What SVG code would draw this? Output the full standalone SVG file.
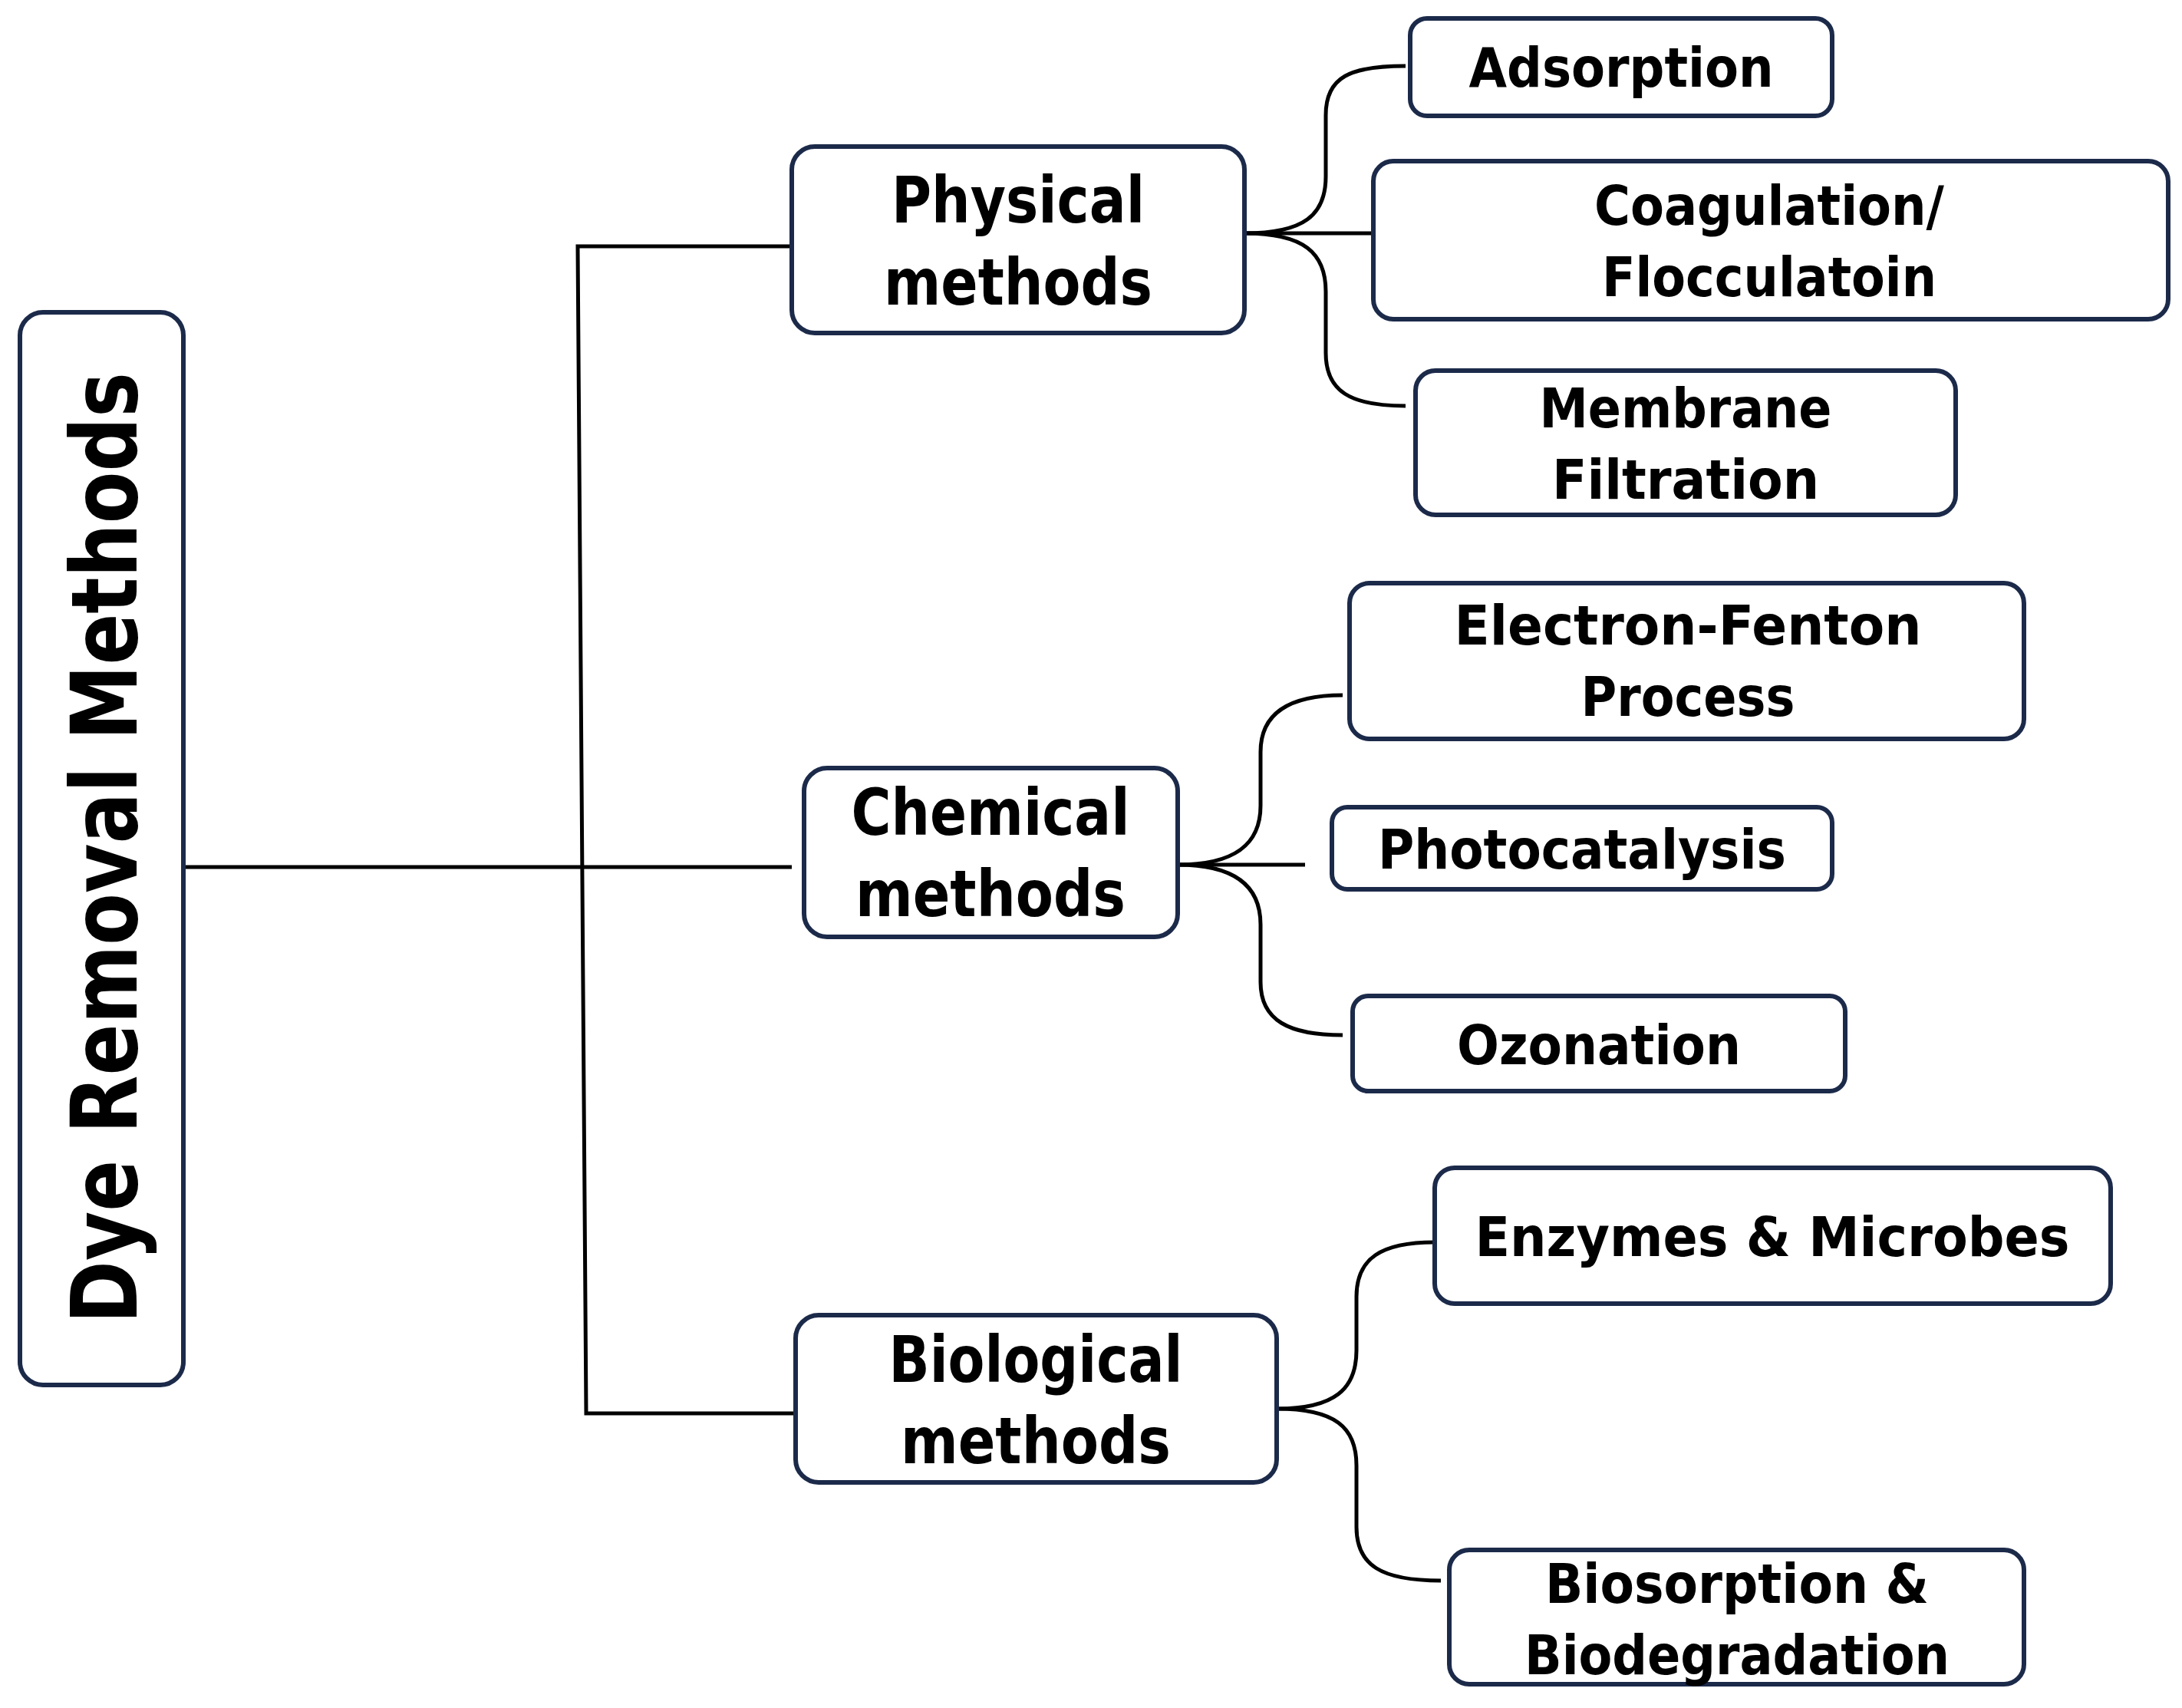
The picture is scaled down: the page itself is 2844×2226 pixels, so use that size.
<svg xmlns="http://www.w3.org/2000/svg" width="2844" height="2226" viewBox="0 0 2844 2226">
<style>
.b{fill:#fff;stroke:#1c2a4a;stroke-width:6}
.t{font-family:"DejaVu Sans",sans-serif;font-weight:bold;fill:#000;text-anchor:middle}
.g{font-size:84px}.l{font-size:72px}
#connectors path{fill:none;stroke:#000;stroke-width:5}
</style>
<rect width="2844" height="2226" fill="#fff"/>
<g id="connectors">
<path d="M239,1130 L1032,1130"/>
<path d="M1032,321 L753,321 L764,1842 L1037,1842"/>
<path d="M1622,304 C1700,304 1728,280 1728,230 L1728,150 C1728,100 1760,86 1832,86"/>
<path d="M1622,304 L1790,304"/>
<path d="M1622,304 C1700,304 1728,330 1728,380 L1728,460 C1728,510 1760,529 1832,529"/>
<path d="M1535,1127 C1610,1127 1643,1100 1643,1050 L1643,980 C1643,930 1680,906 1750,906"/>
<path d="M1535,1127 L1701,1127"/>
<path d="M1535,1127 C1610,1127 1643,1155 1643,1205 L1643,1280 C1643,1330 1680,1349 1750,1349"/>
<path d="M1664,1836 C1740,1836 1768,1810 1768,1760 L1768,1690 C1768,1640 1800,1619 1870,1619"/>
<path d="M1664,1836 C1740,1836 1768,1860 1768,1910 L1768,1990 C1768,2040 1800,2060 1878,2060"/>
</g>
<g id="root"><rect class="b" x="26" y="407" width="213" height="1398" rx="30"/>
<text class="t" font-size="120" transform="translate(178,1105) rotate(-90)" textLength="1240" lengthAdjust="spacingAndGlyphs">Dye Removal Methods</text></g>
<g id="physical"><rect class="b" x="1032" y="191" width="590" height="243" rx="30"/>
<text class="t g" x="1327" y="290" textLength="330" lengthAdjust="spacingAndGlyphs">Physical</text>
<text class="t g" x="1327" y="397" textLength="350" lengthAdjust="spacingAndGlyphs">methods</text></g>
<g id="chemical"><rect class="b" x="1048" y="1001" width="487" height="220" rx="30"/>
<text class="t g" x="1291" y="1088" textLength="363" lengthAdjust="spacingAndGlyphs">Chemical</text>
<text class="t g" x="1291" y="1194" textLength="352" lengthAdjust="spacingAndGlyphs">methods</text></g>
<g id="biological"><rect class="b" x="1037" y="1714" width="627" height="218" rx="30"/>
<text class="t g" x="1350" y="1801" textLength="383" lengthAdjust="spacingAndGlyphs">Biological</text>
<text class="t g" x="1350" y="1907" textLength="352" lengthAdjust="spacingAndGlyphs">methods</text></g>
<g id="adsorption"><rect class="b" x="1838" y="24" width="550" height="127" rx="22"/>
<text class="t l" x="2113" y="113" textLength="397" lengthAdjust="spacingAndGlyphs">Adsorption</text></g>
<g id="coagulation"><rect class="b" x="1790" y="210" width="1036" height="206" rx="26"/>
<text class="t l" x="2306" y="293" textLength="456" lengthAdjust="spacingAndGlyphs">Coagulation/</text>
<text class="t l" x="2306" y="386" textLength="436" lengthAdjust="spacingAndGlyphs">Flocculatoin</text></g>
<g id="membrane"><rect class="b" x="1845" y="483" width="704" height="188" rx="26"/>
<text class="t l" x="2197" y="557" textLength="381" lengthAdjust="spacingAndGlyphs">Membrane</text>
<text class="t l" x="2197" y="650" textLength="348" lengthAdjust="spacingAndGlyphs">Filtration</text></g>
<g id="fenton"><rect class="b" x="1759" y="760" width="879" height="203" rx="26"/>
<text class="t l" x="2200" y="840" textLength="609" lengthAdjust="spacingAndGlyphs">Electron-Fenton</text>
<text class="t l" x="2200" y="933" textLength="279" lengthAdjust="spacingAndGlyphs">Process</text></g>
<g id="photocatalysis"><rect class="b" x="1736" y="1052" width="652" height="107" rx="20"/>
<text class="t l" x="2062" y="1132" textLength="532" lengthAdjust="spacingAndGlyphs">Photocatalysis</text></g>
<g id="ozonation"><rect class="b" x="1763" y="1298" width="642" height="124" rx="20"/>
<text class="t l" x="2084" y="1387" textLength="370" lengthAdjust="spacingAndGlyphs">Ozonation</text></g>
<g id="enzymes"><rect class="b" x="1870" y="1522" width="881" height="177" rx="26"/>
<text class="t l" x="2310" y="1637" textLength="775" lengthAdjust="spacingAndGlyphs">Enzymes &amp; Microbes</text></g>
<g id="biosorption"><rect class="b" x="1889" y="2020" width="749" height="175" rx="26"/>
<text class="t l" x="2264" y="2089" textLength="500" lengthAdjust="spacingAndGlyphs">Biosorption &amp;</text>
<text class="t l" x="2264" y="2182" textLength="554" lengthAdjust="spacingAndGlyphs">Biodegradation</text></g>
</svg>
